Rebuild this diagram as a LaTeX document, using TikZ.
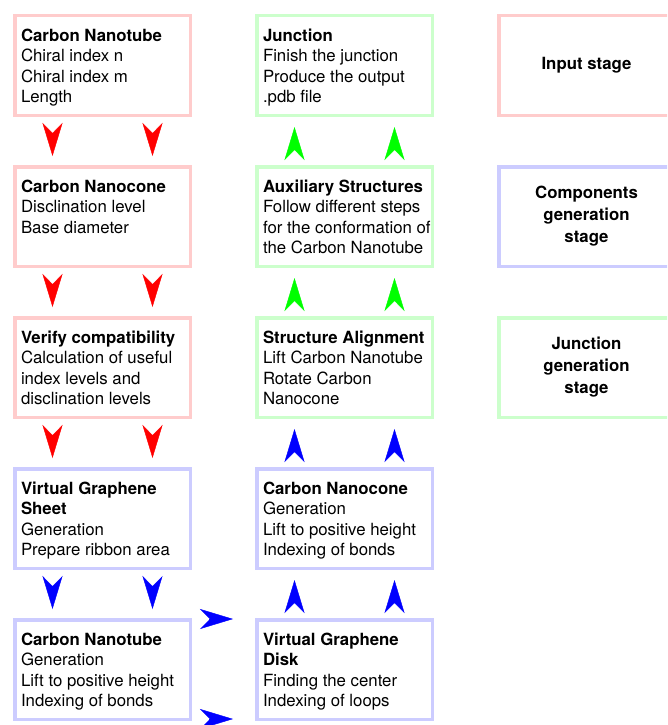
\documentclass[tikz,border=0pt]{standalone}
\usepackage{fontspec}
\setmainfont{TeX Gyre Heros}
\usetikzlibrary{arrows.meta}
\hfuzz=6pt
\definecolor{pinkline}{RGB}{255,204,204}
\definecolor{blueline}{RGB}{204,204,255}
\definecolor{greenline}{RGB}{204,255,204}
\newcommand{\boxtext}[1]{\parbox[t][77.5pt][t]{163pt}{\strut#1}}
\tikzset{
  stepbox/.style={draw, line width=3.5pt, anchor=north west, inner xsep=6.25pt, inner ysep=11pt, font=\fontsize{16.8}{20.5}\selectfont},
  stagebox/.style={draw, line width=3.5pt, anchor=north west, minimum width=175.5pt, minimum height=99.5pt, align=center, font=\fontsize{16.8}{22}\selectfont\bfseries},
  head/.style={line width=0.4pt, -{Stealth[length=33pt,width=20pt,inset=10pt]}},
}
\begin{document}
\begin{tikzpicture}[x=1pt,y=-1pt]
			\useasboundingbox (0,0) rectangle (667,725);
			\clip (0,0) rectangle (667,725);
			% first column
			\node[stepbox,draw=pinkline] (tube) at (13,14) {\boxtext{\textbf{Carbon Nanotube}\\Chiral index n\\Chiral index m\\Length}};
			\node[stepbox,draw=pinkline] (cone) at (13,165) {\boxtext{\textbf{Carbon Nanocone}\\Disclination level\\Base diameter}};
			\node[stepbox,draw=pinkline] (verify) at (13,316) {\boxtext{\textbf{Verify compatibility}\\Calculation of useful\\index levels and\\disclination levels}};
			\node[stepbox,draw=blueline] (sheet) at (13,467) {\boxtext{\textbf{Virtual Graphene}\\\textbf{Sheet}\\Generation\\Prepare ribbon area}};
			\node[stepbox,draw=blueline] (gentube) at (13,618) {\boxtext{\textbf{Carbon Nanotube}\\Generation\\Lift to positive height\\Indexing of bonds}};
			% second column
			\node[stepbox,draw=greenline] (junction) at (255,14) {\boxtext{\textbf{Junction}\\Finish the junction\\Produce the output\\.pdb file}};
			\node[stepbox,draw=greenline] (aux) at (255,165) {\boxtext{\mbox{\textbf{Auxiliary Structures}}\\\mbox{Follow different steps}\\\mbox{for the conformation of}\\\mbox{the Carbon Nanotube}}};
			\node[stepbox,draw=greenline] (align) at (255,316) {\boxtext{\mbox{\textbf{Structure Alignment}}\\\mbox{Lift Carbon Nanotube}\\Rotate Carbon\\Nanocone}};
			\node[stepbox,draw=blueline] (gencone) at (255,467) {\boxtext{\textbf{Carbon Nanocone}\\Generation\\\mbox{Lift to positive height}\\Indexing of bonds}};
			\node[stepbox,draw=blueline] (disk) at (255,618) {\boxtext{\textbf{Virtual Graphene}\\\textbf{Disk}\\Finding the center\\Indexing of loops}};
			% legend
			\node[stagebox,draw=pinkline] (input) at (497,14) {Input stage};
			\node[stagebox,draw=blueline] (components) at (497,165) {Components\\generation\\stage};
			\node[stagebox,draw=greenline] (joining) at (497,316) {Junction\\generation\\stage\rule[-5pt]{0pt}{0pt}};
			% arrow heads
			\foreach \dx in {-50,50} {
				\draw[head,red] ([xshift=\dx pt,yshift=-16pt]tube.south) -- ([xshift=\dx pt,yshift=9pt]cone.north);
				\draw[head,red] ([xshift=\dx pt,yshift=-16pt]cone.south) -- ([xshift=\dx pt,yshift=9pt]verify.north);
				\draw[head,red] ([xshift=\dx pt,yshift=-16pt]verify.south) -- ([xshift=\dx pt,yshift=9pt]sheet.north);
				\draw[head,blue] ([xshift=\dx pt,yshift=-16pt]sheet.south) -- ([xshift=\dx pt,yshift=9pt]gentube.north);
				\draw[head,green] ([xshift=\dx pt,yshift=17pt]aux.north) -- ([xshift=\dx pt,yshift=-10pt]junction.south);
				\draw[head,green] ([xshift=\dx pt,yshift=17pt]align.north) -- ([xshift=\dx pt,yshift=-10pt]aux.south);
				\draw[head,blue] ([xshift=\dx pt,yshift=17pt]gencone.north) -- ([xshift=\dx pt,yshift=-10pt]align.south);
				\draw[head,blue] ([xshift=\dx pt,yshift=17pt]disk.north) -- ([xshift=\dx pt,yshift=-10pt]gencone.south);
			}
			\draw[head,blue] ([xshift=17pt,yshift=-1pt]gentube.north east) -- ([xshift=-22pt,yshift=-1pt]disk.north west);
			\draw[head,blue] ([xshift=17pt,yshift=2pt]gentube.south east) -- ([xshift=-22pt,yshift=2pt]disk.south west);
		\end{tikzpicture}
\end{document}
